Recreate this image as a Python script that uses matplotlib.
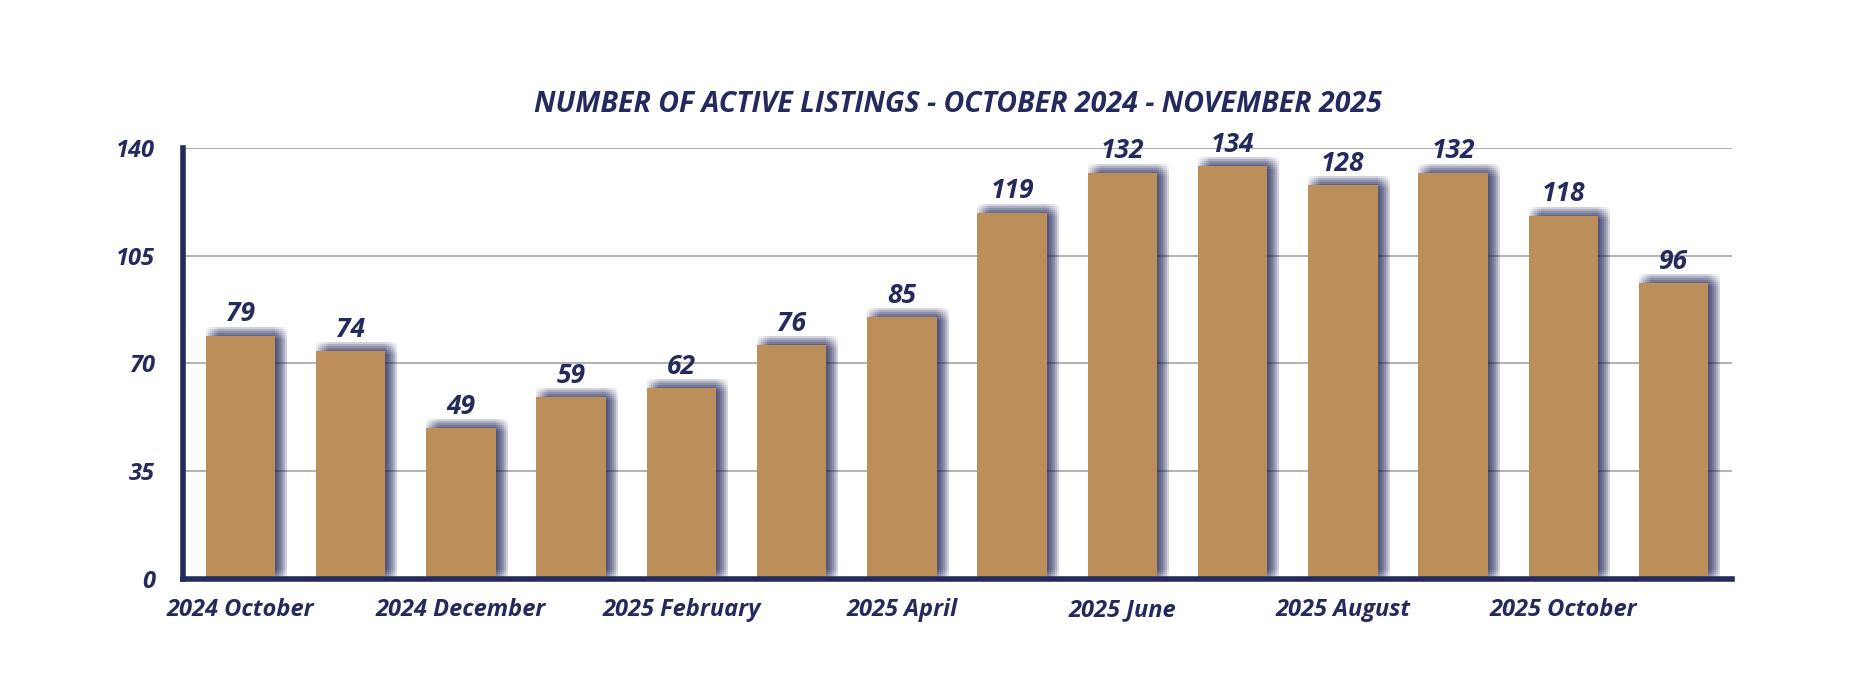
"""Active listings bar chart, Oct 2024 - Nov 2025."""
import matplotlib
matplotlib.use("Agg")
import matplotlib.pyplot as plt
import matplotlib.patheffects as pe

NAVY = "#252a5e"
GOLD = "#bc8f5a"
GRID = "#b4b4b4"

months = [
    "2024 October", "2024 November", "2024 December", "2025 January",
    "2025 February", "2025 March", "2025 April", "2025 May", "2025 June",
    "2025 July", "2025 August", "2025 September", "2025 October",
    "2025 November",
]
listings = [79, 74, 49, 59, 62, 76, 85, 119, 132, 134, 128, 132, 118, 96]
y_ticks = [0, 35, 70, 105, 140]

plt.rcParams["font.family"] = ["Open Sans", "DejaVu Sans"]

fig = plt.figure(figsize=(18.54, 6.9), dpi=100)
ax = fig.add_axes([0.0987, 0.161, 0.8355, 0.6245])

# soft blurred shadow: box blur from faint offset copies (offsets in points)
PX = 72 / 100
shadow = []
for dx in range(-6, 7, 2):
    for dy in range(-6, 7, 2):
        shadow.append(pe.SimplePatchShadow(offset=((6 + dx) * PX, (3 + dy) * PX),
                                           shadow_rgbFace=NAVY, alpha=0.03))
shadow.append(pe.Normal())

x = list(range(len(listings)))
bars = ax.bar(x, listings, width=0.63, color=GOLD, zorder=3)
for b in bars:
    b.set_path_effects(shadow)

for xi, v in zip(x, listings):
    ax.annotate(str(v), (xi, v), xytext=(0, 6), textcoords="offset points",
                ha="center", va="bottom", fontsize=19, fontweight="bold",
                fontstyle="italic", color=NAVY, zorder=5, annotation_clip=False)

ax.set_xlim(-0.52, len(listings) - 1 + 0.53)
ax.set_ylim(0, 140)
ax.set_yticks(y_ticks)
ax.set_yticklabels([str(t) for t in y_ticks])
ax.set_xticks(x[::2])
ax.set_xticklabels(months[::2])
ax.tick_params(axis="both", length=0, labelsize=17, colors=NAVY)
ax.tick_params(axis="y", pad=20)
ax.tick_params(axis="x", pad=14)
for lab in ax.get_xticklabels() + ax.get_yticklabels():
    lab.set_fontweight("bold")
    lab.set_fontstyle("italic")

ax.grid(axis="y", color=GRID, linewidth=1.5, zorder=0)
ax.set_axisbelow(True)
for side in ("top", "right"):
    ax.spines[side].set_visible(False)
for side in ("left", "bottom"):
    ax.spines[side].set_color(NAVY)
    ax.spines[side].set_linewidth(4)
    ax.spines[side].set_zorder(6)

fig.text(0.5165, 0.849, "NUMBER OF ACTIVE LISTINGS - OCTOBER 2024 - NOVEMBER 2025",
         ha="center", va="center", fontsize=20.5, fontweight="bold",
         fontstyle="italic", color=NAVY)

fig.savefig("out.png", dpi=100)
